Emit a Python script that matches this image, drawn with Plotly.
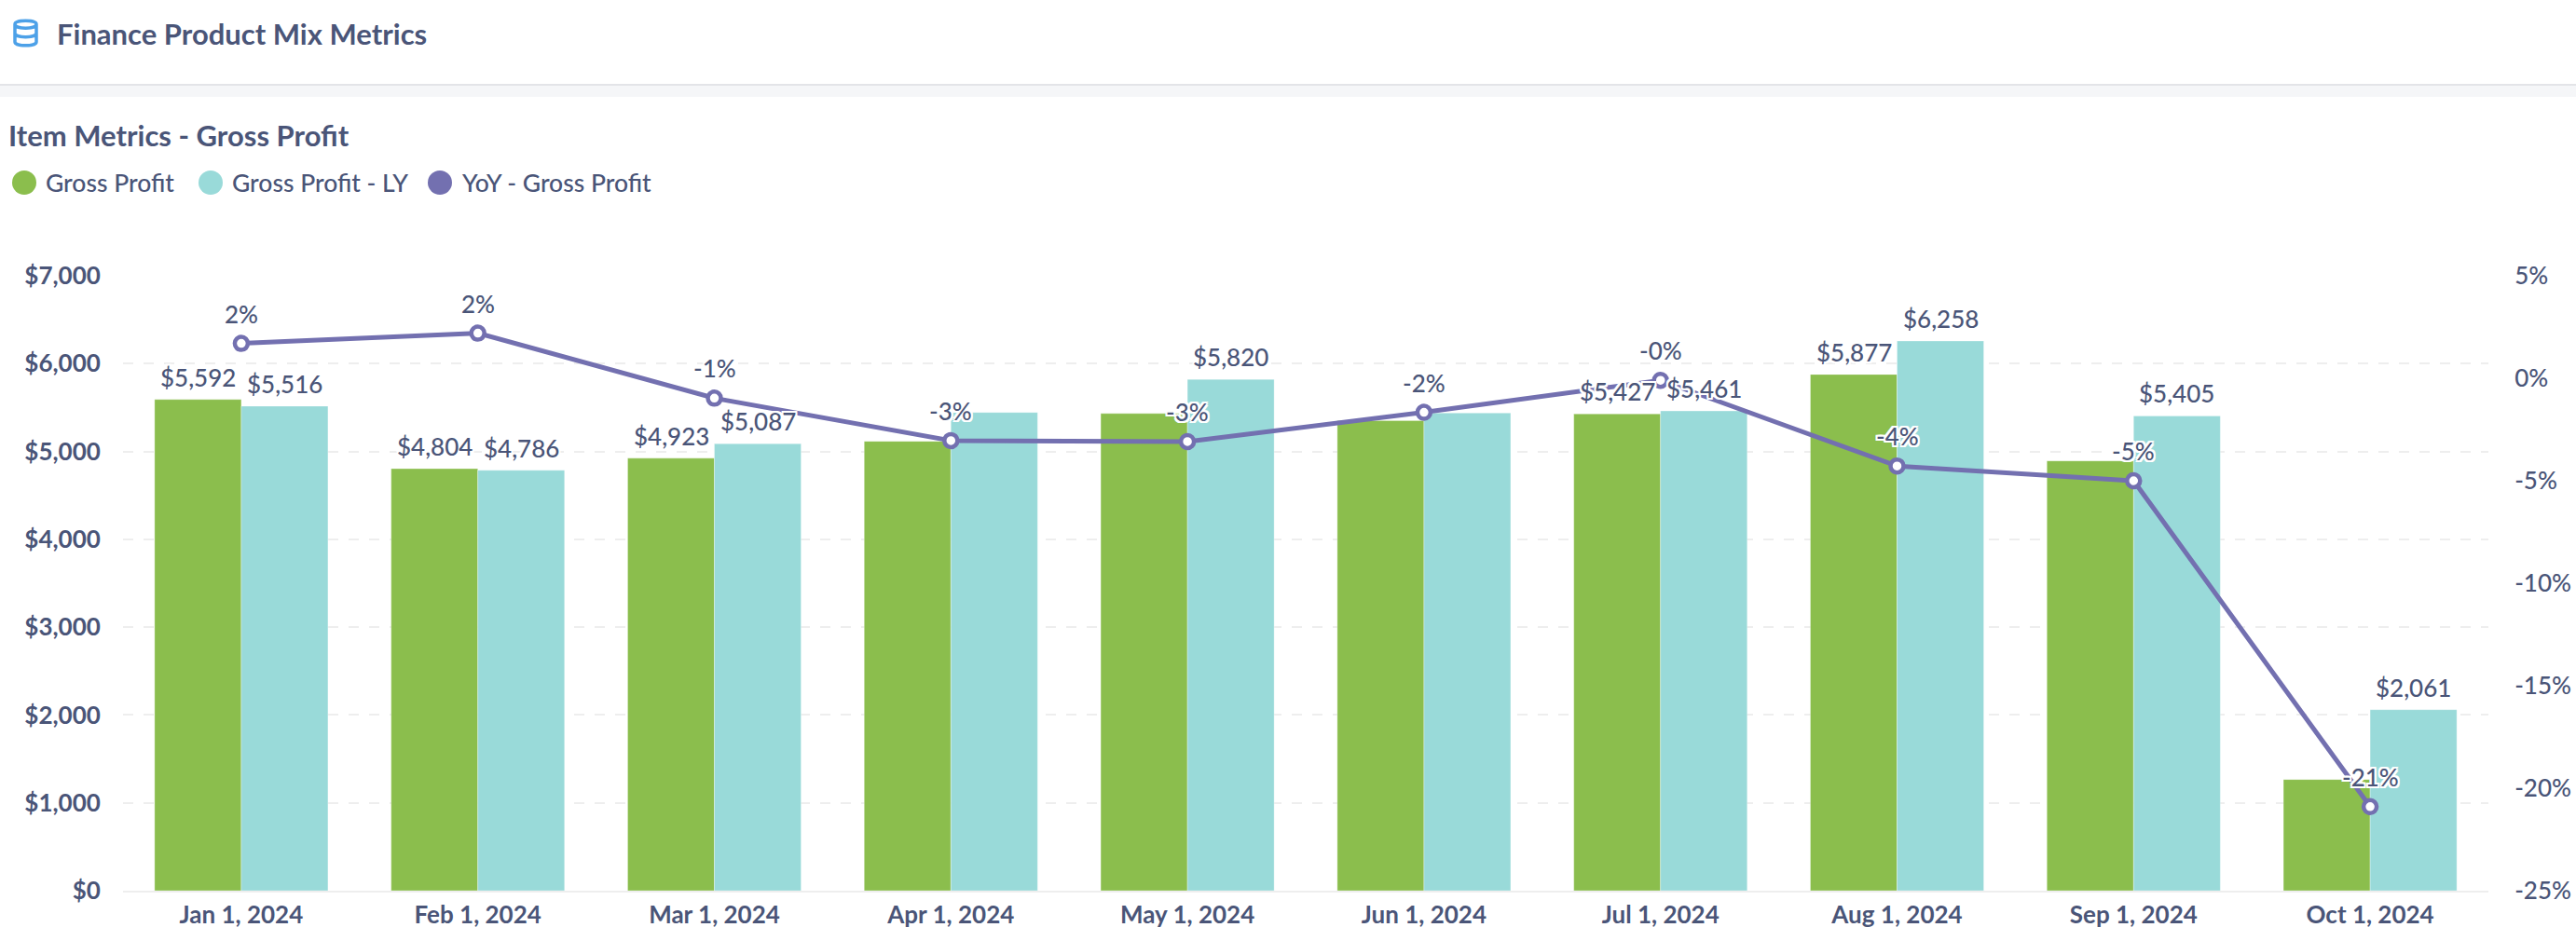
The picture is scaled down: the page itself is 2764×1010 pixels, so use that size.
import plotly.graph_objects as go

months = ["Jan 1, 2024", "Feb 1, 2024", "Mar 1, 2024", "Apr 1, 2024", "May 1, 2024",
          "Jun 1, 2024", "Jul 1, 2024", "Aug 1, 2024", "Sep 1, 2024", "Oct 1, 2024"]
gross_profit = [5592, 4804, 4923, 5116, 5432, 5352, 5427, 5877, 4893, 1266]
gross_profit_ly = [5516, 4786, 5087, 5444, 5820, 5437, 5461, 6258, 5405, 2061]
yoy = [1.7, 2.2, -0.97, -3.04, -3.09, -1.66, -0.1, -4.28, -5.0, -20.9]
yoy_labels = ["2%", "2%", "-1%", "-3%", "-3%", "-2%", "-0%", "-4%", "-5%", "-21%"]
# Values whose labels are drawn in the reference (others are hidden by collision)
gp_labelled = [True, True, True, False, False, False, True, True, False, False]
ly_labelled = [True, True, True, False, True, False, True, True, True, True]
pct_ticks = [-25, -20, -15, -10, -5, 0, 5]
pct_tick_labels = ["-25%", "-20%", "-15%", "-10%", "-5%", "0%", "5%"]

W, H = 2764, 1010
L, R, T, B = 132, 2670, 296, 956
INK = "#4a5578"
GREEN, TEAL, PURPLE = "#8bbe4d", "#99dad9", "#7370b0"
FONT = "Lato"
HALO = ",".join(f"white {a}px {b}px 0" for a in (-2, 0, 2) for b in (-2, 0, 2) if a or b)


def px(x):
    return (x - L) / (R - L)


def py(y):
    return (B - y) / (B - T)


edge = dict(color="rgba(255,255,255,0.3)", width=1)
fig = go.Figure()
fig.add_bar(x=months, y=gross_profit, name="Gross Profit", marker=dict(color=GREEN, line=edge))
fig.add_bar(x=months, y=gross_profit_ly, name="Gross Profit - LY", marker=dict(color=TEAL, line=edge))
fig.add_scatter(x=months, y=yoy, yaxis="y2", name="YoY - Gross Profit", mode="lines+markers",
                line=dict(color=PURPLE, width=5),
                marker=dict(size=14, color="white", line=dict(color=PURPLE, width=4.5)))

annotations = []
label_font = dict(family=FONT, size=26, color=INK, weight=500, shadow=HALO)
for m, v, show in zip(months, gross_profit, gp_labelled):
    if show:
        annotations.append(dict(x=m, y=v, xref="x", yref="y", text=f"${v:,}", showarrow=False,
                                xshift=-46.5, yshift=24, yanchor="middle", font=label_font))
for m, v, show in zip(months, gross_profit_ly, ly_labelled):
    if show:
        annotations.append(dict(x=m, y=v, xref="x", yref="y", text=f"${v:,}", showarrow=False,
                                xshift=46.5, yshift=24, yanchor="middle", font=label_font))
for m, v, t in zip(months, yoy, yoy_labels):
    annotations.append(dict(x=m, y=v, xref="x", yref="y2", text=t, showarrow=False,
                            yshift=32, yanchor="middle", font=label_font))


def page_text(x, y, text, size, weight=400):
    annotations.append(dict(x=px(x), y=py(y), xref="paper", yref="paper", text=text, showarrow=False,
                            xanchor="left", yanchor="middle",
                            font=dict(family=FONT, size=size, color=INK, weight=weight)))


page_text(59, 36, "Finance Product Mix Metrics", 31, 700)
page_text(7, 145, "Item Metrics - Gross Profit", 31, 700)
page_text(47, 196, "Gross Profit", 26.5, 500)
page_text(247, 196, "Gross Profit - LY", 26.5, 500)
page_text(493, 196, "YoY - Gross Profit", 26.5, 500)

shapes = [
    dict(type="rect", xref="paper", yref="paper", x0=px(0), x1=px(W), y0=py(91), y1=py(104),
         fillcolor="#f5f6f8", line=dict(width=0), layer="below"),
    dict(type="line", xref="paper", yref="paper", x0=px(0), x1=px(W), y0=py(91), y1=py(91),
         line=dict(color="#e3e4e8", width=2), layer="below"),
]
for cx, c in ((26, GREEN), (226, TEAL), (472, PURPLE)):
    shapes.append(dict(type="circle", xref="paper", yref="paper", x0=px(cx - 13), x1=px(cx + 13),
                       y0=py(209), y1=py(183), fillcolor=c, line=dict(width=0)))


# database icon
def icon_path():
    xl, xr = px(16), px(39)
    def Y(v):
        return py(v)
    d = [f"M{xl},{Y(26)} C{xl},{Y(21)} {xr},{Y(21)} {xr},{Y(26)} L{xr},{Y(45)} "
         f"C{xr},{Y(50)} {xl},{Y(50)} {xl},{Y(45)} Z"]
    for yy in (26, 35.5):
        d.append(f"M{xl},{Y(yy)} C{xl},{Y(yy + 5.5)} {xr},{Y(yy + 5.5)} {xr},{Y(yy)}")
    return " ".join(d)


shapes.append(dict(type="path", xref="paper", yref="paper", path=icon_path(),
                   line=dict(color="#4da1e8", width=3.5), fillcolor="rgba(0,0,0,0)"))

axis_font = dict(family=FONT, size=26, color=INK, weight=700)
fig.update_layout(
    width=W, height=H, autosize=False,
    margin=dict(l=L, r=W - R, t=T, b=H - B, pad=0, autoexpand=False),
    paper_bgcolor="white", plot_bgcolor="white",
    barmode="group", bargap=0.267, bargroupgap=0, showlegend=False,
    annotations=annotations, shapes=shapes,
    xaxis=dict(type="category", categoryorder="array", categoryarray=months, range=[-0.5, 9.5], tickfont=axis_font,
               showgrid=False, showline=True, linecolor="#eeeeee", linewidth=2,
               ticks="outside", ticklen=2, tickcolor="rgba(0,0,0,0)"),
    yaxis=dict(range=[0, 7000], tickvals=list(range(0, 7001, 1000)), tickformat="$,d", tickfont=axis_font,
               showgrid=True, gridcolor="#eeeeee", gridwidth=2, griddash="11px,11px", zeroline=False,
               ticks="outside", ticklen=18, tickcolor="rgba(0,0,0,0)"),
    yaxis2=dict(overlaying="y", side="right", range=[-25, 5], tickmode="array", tickvals=pct_ticks, ticktext=pct_tick_labels,
                tickfont=dict(family=FONT, size=26, color=INK, weight=500), showgrid=False, zeroline=False,
                ticks="outside", ticklen=22, tickcolor="rgba(0,0,0,0)"),
)

fig.write_html("out.html", config=dict(displayModeBar=False),
               post_script="document.body.style.margin='0';document.documentElement.style.overflow='hidden';")
